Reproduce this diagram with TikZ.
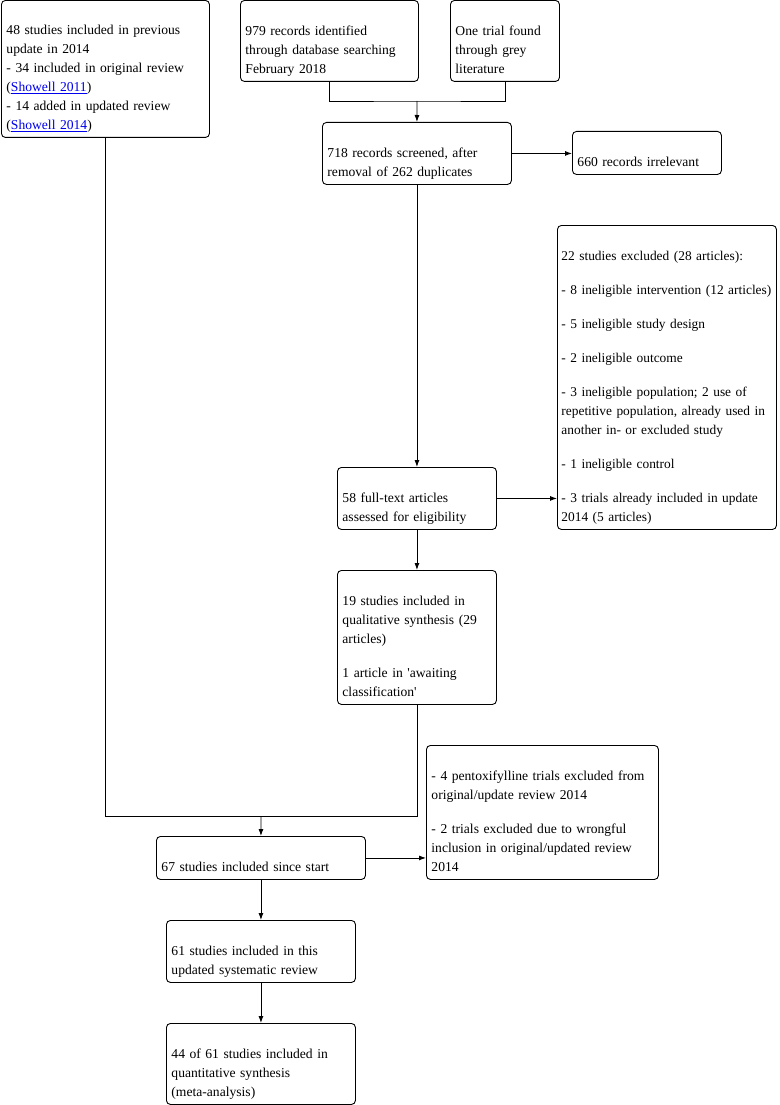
\documentclass[tikz,border=0pt]{standalone}
\usepackage{fontspec}
\setmainfont{Liberation Serif}
\usetikzlibrary{arrows.meta}
\definecolor{linkblue}{RGB}{0,0,238}
\newcommand{\lnk}[1]{\textcolor{linkblue}{\underline{#1}}}
\hyphenpenalty=10000
\exhyphenpenalty=10000
\begin{document}
\begin{tikzpicture}[x=1pt,y=-1pt,
  box/.style={draw, line width=0.9pt, rounded corners=4pt, anchor=north west, align=left,
    inner xsep=5pt, inner ysep=0pt, font=\fontsize{13.6}{19}\selectfont},
  bx/.style n args={3}{minimum width=#1, minimum height=#2, text width=#3},
  arr/.style={line width=0.9pt, -{Latex[length=7pt,width=5pt]}},
  ln/.style={line width=0.9pt}]
\useasboundingbox (0,0) rectangle (779,1105);

\node[box, bx={208pt}{137pt}{198pt}] (A) at (1,0) {\strut\\48 studies included in previous\\update in 2014\\- 34 included in original review\\(\lnk{Showell 2011})\\- 14 added in updated review\\(\lnk{Showell 2014})\strut};
\node[box, bx={178pt}{81pt}{168pt}] (B) at (240,0) {\strut\\979 records identified\\through database searching\\February 2018\strut};
\node[box, bx={109pt}{81pt}{99pt}] (C) at (450,0) {\strut\\One trial found\\through grey\\literature\strut};
\node[box, bx={189pt}{62pt}{179pt}] (D) at (322,122) {\strut\\718 records screened, after\\removal of 262 duplicates\strut};
\node[box, bx={149pt}{43pt}{139pt}] (E) at (572,131) {\strut\\660 records irrelevant\strut};
\node[box, bx={159pt}{62pt}{149pt}] (F) at (337,467) {\strut\\58 full-text articles\\assessed for eligibility\strut};
\node[box, inner xsep=4pt, font=\fontsize{13.4}{19}\selectfont, bx={219pt}{304pt}{211pt}] (G) at (557,225) {\strut\\22 studies excluded (28 articles):\\[15pt]\mbox{- 8 ineligible intervention (12 articles)}\\[15pt]- 5 ineligible study design\\[15pt]- 2 ineligible outcome\\[15pt]- 3 ineligible population; 2 use of\\\mbox{repetitive population, already used in}\\another in- or excluded study\\[15pt]- 1 ineligible control\\[15pt]- 3 trials already included in update\\2014 (5 articles)\strut};
\node[box, bx={159pt}{134pt}{149pt}] (H) at (337,570) {\strut\\19 studies included in\\qualitative synthesis (29\\articles)\\[15pt]1 article in \textquotesingle awaiting\\classification\textquotesingle\strut};
\node[box, bx={209pt}{43pt}{199pt}] (I) at (156,836) {\strut\\67 studies included since start\strut};
\node[box, bx={232pt}{134pt}{222pt}] (J) at (426,745) {\strut\\- 4 pentoxifylline trials excluded from\\original/update review 2014\\[15pt]- 2 trials excluded due to wrongful\\inclusion in original/updated review\\2014\strut};
\node[box, bx={189pt}{62pt}{179pt}] (K) at (166,920) {\strut\\61 studies included in this\\updated systematic review\strut};
\node[box, bx={189pt}{81pt}{179pt}] (L) at (166,1023) {\strut\\44 of 61 studies included in\\quantitative synthesis\\(meta-analysis)\strut};

\coordinate (m1) at (417,101);
\coordinate (m2) at (261,816);
\draw[ln] (B.south) |- (m1) -| (C.south);
\draw[arr] (m1) -- (D.north);
\draw[arr] (D.east) -- (D.east -| E.west);
\draw[arr] (D.south) -- (F.north);
\draw[arr] (F.east) -- (F.east -| G.west);
\draw[arr] (F.south) -- (H.north);
\draw[ln] (H.south) |- (A.south |- m2) -- (A.south);
\draw[arr] (m2) -- (I.north);
\draw[arr] (I.east) -- (I.east -| J.west);
\draw[arr] (I.south) -- (K.north);
\draw[arr] (K.south) -- (L.north);
\end{tikzpicture}
\end{document}
